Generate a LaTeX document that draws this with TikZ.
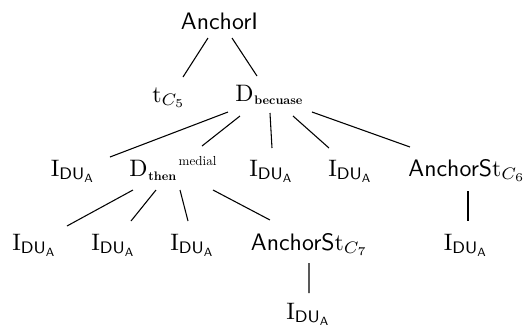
\documentclass[tikz,border=0pt]{standalone}
\usepackage{amsmath}
\usepackage{graphicx}
\begin{document}
\begin{tikzpicture}[x=0.42pt,y=-0.42pt,
  lbl/.style={anchor=base,inner sep=0pt,font=\fontsize{10}{12}\selectfont},
  edge/.style={line width=0.45pt}]
\useasboundingbox (0,0) rectangle (525,332);
\newcommand{\Idua}{$\mathrm{I}_{\mathsf{DU}_{\mathsf{A}}}$}
\newcommand{\smallbf}[1]{\scalebox{0.52}{\bfseries #1}}
\newcommand{\smallrm}[1]{\scalebox{0.55}{#1}}
% nodes
\node[lbl] (root) at (219.5,29) {\textsf{AnchorI}};
\node[lbl] (t5)   at (169,102) {$\mathrm{t}_{C_5}$};
\node[lbl] (dbec) at (269,101) {D\hspace{0.3pt}\raisebox{-1.5pt}{\smallbf{becuase}}};
\node[lbl] (i1)   at (73,176) {\Idua};
\node[lbl] (dthen) at (173,176) {D\hspace{0.3pt}\raisebox{-2pt}{\smallbf{then}}\hspace{1pt}\raisebox{4.5pt}{\smallrm{medial}}};
\node[lbl] (i2)   at (271.5,176) {\Idua};
\node[lbl] (i3)   at (350.5,176) {\Idua};
\node[lbl] (as6)  at (467,176) {\textsf{AnchorS}$\mathrm{t}_{C_6}$};
\node[lbl] (i4)   at (34.5,250) {\Idua};
\node[lbl] (i5)   at (113.5,250) {\Idua};
\node[lbl] (i6)   at (192.5,250) {\Idua};
\node[lbl] (as7)  at (309.5,250) {\textsf{AnchorS}$\mathrm{t}_{C_7}$};
\node[lbl] (i7)   at (466,250) {\Idua};
\node[lbl] (i8)   at (308.5,319) {\Idua};
% edges
\draw[edge] ([shift={(-11.5,9)}]root.base) -- ([shift={(14,-25)}]t5.base);
\draw[edge] ([shift={(12.5,9)}]root.base) -- ([shift={(-12,-25)}]dbec.base);
\draw[edge] ([shift={(-41,11)}]dbec.base) -- ([shift={(37,-19)}]i1.base);
\draw[edge] ([shift={(-29,15)}]dbec.base) -- ([shift={(29,-30)}]dthen.base);
\draw[edge] ([shift={(1,12)}]dbec.base) -- ([shift={(0.5,-28)}]i2.base);
\draw[edge] ([shift={(24,15)}]dbec.base) -- ([shift={(-21.5,-28)}]i3.base);
\draw[edge] ([shift={(43,11)}]dbec.base) -- ([shift={(-57,-29)}]as6.base);
\draw[edge] ([shift={(-40,14)}]dthen.base) -- ([shift={(32.5,-24)}]i4.base);
\draw[edge] ([shift={(-17,14)}]dthen.base) -- ([shift={(17.5,-29)}]i5.base);
\draw[edge] ([shift={(7,14)}]dthen.base) -- ([shift={(-4.5,-29)}]i6.base);
\draw[edge] ([shift={(40,14)}]dthen.base) -- ([shift={(-39.5,-30)}]as7.base);
\draw[edge] ([shift={(1,15)}]as6.base) -- ([shift={(2,-29)}]i7.base);
\draw[edge] ([shift={(-0.5,13)}]as7.base) -- ([shift={(0.5,-26)}]i8.base);
\end{tikzpicture}
\end{document}
